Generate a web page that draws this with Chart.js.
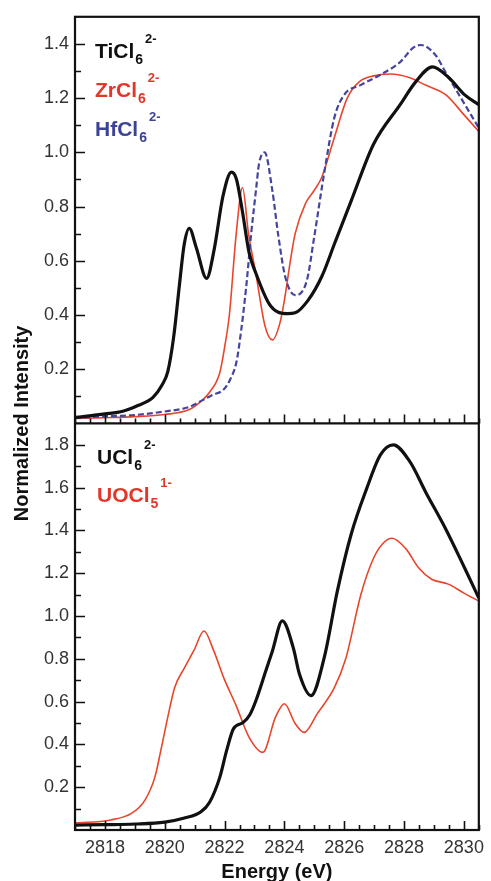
<!DOCTYPE html>
<html>
<head>
<meta charset="utf-8">
<script src="https://cdn.jsdelivr.net/npm/chart.js@4.4.1/dist/chart.umd.min.js"></script>
<style>
html,body{margin:0;padding:0;background:#ffffff;}
#wrap{width:491px;height:881px;position:relative;}
</style>
</head>
<body>
<div id="wrap"><canvas id="c" width="491" height="881"></canvas></div>
<script>
// ---------- data ----------
const xTicks = [2818, 2820, 2822, 2824, 2826, 2828, 2830];
const yTopTicks = [0.2, 0.4, 0.6, 0.8, 1.0, 1.2, 1.4];
const yBotTicks = [0.2, 0.4, 0.6, 0.8, 1.0, 1.2, 1.4, 1.6, 1.8];

// Top panel: TiCl6 2-
const tiE = [2817, 2818, 2818.6, 2819.1, 2819.6, 2819.9, 2820.1, 2820.3, 2820.5, 2820.65, 2820.82, 2821.05, 2821.4, 2821.65, 2821.95, 2822.23, 2822.4, 2822.6, 2822.82, 2823.05, 2823.48, 2823.8, 2824.1, 2824.36, 2824.79, 2825.25, 2825.7, 2826.23, 2826.98, 2827.87, 2828.39, 2828.95, 2829.5, 2830.03, 2830.5];
const tiI = [0.022, 0.035, 0.045, 0.066, 0.095, 0.14, 0.19, 0.32, 0.52, 0.66, 0.72, 0.65, 0.535, 0.64, 0.84, 0.927, 0.90, 0.78, 0.63, 0.553, 0.443, 0.41, 0.405, 0.408, 0.454, 0.542, 0.67, 0.82, 1.03, 1.176, 1.26, 1.315, 1.275, 1.212, 1.176];

// Top panel: ZrCl6 2-
const zrE = [2817, 2818, 2819, 2820, 2820.8, 2821.25, 2821.5, 2821.84, 2822.0, 2822.16, 2822.39, 2822.6, 2822.8, 2823.05, 2823.35, 2823.6, 2823.85, 2824.0, 2824.2, 2824.36, 2824.7, 2825.0, 2825.25, 2825.67, 2826.1, 2826.5, 2826.98, 2827.54, 2828.2, 2828.7, 2829.4, 2830.0, 2830.5];
const zrI = [0.018, 0.021, 0.025, 0.033, 0.05, 0.085, 0.115, 0.187, 0.28, 0.40, 0.70, 0.87, 0.70, 0.55, 0.36, 0.308, 0.37, 0.454, 0.60, 0.70, 0.81, 0.86, 0.908, 1.055, 1.2, 1.26, 1.282, 1.289, 1.275, 1.249, 1.212, 1.139, 1.077];

// Top panel: HfCl6 2-
const hfE = [2817, 2818, 2819, 2820, 2820.8, 2821.25, 2821.6, 2821.97, 2822.2, 2822.39, 2822.5, 2822.72, 2822.89, 2823.05, 2823.15, 2823.34, 2823.6, 2823.8, 2824.03, 2824.36, 2824.75, 2825.0, 2825.34, 2825.67, 2826.0, 2826.56, 2827.21, 2827.87, 2828.3, 2828.56, 2829.05, 2829.38, 2829.84, 2830.5];
const hfI = [0.02, 0.026, 0.031, 0.044, 0.06, 0.085, 0.105, 0.125, 0.165, 0.223, 0.297, 0.50, 0.70, 0.86, 0.956, 1.0, 0.857, 0.69, 0.54, 0.473, 0.527, 0.69, 0.93, 1.128, 1.212, 1.249, 1.286, 1.333, 1.385, 1.396, 1.359, 1.297, 1.212, 1.09];

// Bottom panel: UCl6 2-
const uE = [2817, 2818, 2819, 2820, 2820.66, 2821.2, 2821.5, 2821.84, 2822.07, 2822.3, 2822.62, 2822.85, 2823.05, 2823.38, 2823.6, 2823.93, 2824.3, 2824.5, 2824.89, 2825.34, 2825.77, 2826.23, 2826.75, 2827.21, 2827.64, 2828.2, 2828.72, 2829.38, 2830.03, 2830.5];
const uI = [0.023, 0.025, 0.028, 0.037, 0.056, 0.084, 0.13, 0.246, 0.372, 0.474, 0.502, 0.54, 0.605, 0.744, 0.837, 0.977, 0.85, 0.73, 0.628, 0.81, 1.116, 1.381, 1.595, 1.753, 1.80, 1.72, 1.58, 1.41, 1.223, 1.084];

// Bottom panel: UOCl5 1-
const uoE = [2817, 2818.2, 2818.9, 2819.34, 2819.67, 2819.87, 2820.1, 2820.33, 2820.66, 2820.98, 2821.31, 2821.64, 2821.97, 2822.39, 2822.82, 2823.28, 2823.7, 2824.0, 2824.36, 2824.66, 2825.1, 2825.67, 2826.05, 2826.56, 2826.98, 2827.3, 2827.6, 2828.05, 2828.5, 2828.92, 2829.48, 2830.0, 2830.5];
const uoI = [0.033, 0.047, 0.079, 0.14, 0.247, 0.372, 0.526, 0.665, 0.758, 0.84, 0.93, 0.837, 0.712, 0.58, 0.433, 0.363, 0.526, 0.59, 0.498, 0.456, 0.544, 0.665, 0.80, 1.102, 1.27, 1.34, 1.363, 1.316, 1.223, 1.172, 1.149, 1.107, 1.07];

// Legend labels: [base, subscript, superscript]
const topNames = [['TiCl', '6', '2-'], ['ZrCl', '6', '2-'], ['HfCl', '6', '2-']];
const botNames = [['UCl', '6', '2-'], ['UOCl', '5', '1-']];

// ---------- styling ----------
const FONT = "'Liberation Sans', Arial, Helvetica, sans-serif";
const BLACK = '#111111', RED = '#e8452c', BLUE = '#45459e';
const TXT_RED = '#e2362a', TXT_BLUE = '#3c4296';

const pts = (E, I) => E.map((e, i) => ({x: e, y: I[i]}));

const decoPlugin = {
  id: 'deco',
  afterDatasetsDraw(chart) {
    const ctx = chart.ctx;
    const {left, right, top, bottom} = chart.chartArea;
    const x = chart.scales.x, yT = chart.scales.yTop, yB = chart.scales.yBot;
    const mid = yT.bottom;
    ctx.save();
    ctx.strokeStyle = BLACK;
    ctx.lineWidth = 2.2;
    ctx.strokeRect(left, top, right - left, bottom - top);
    ctx.beginPath(); ctx.moveTo(left, mid); ctx.lineTo(right, mid); ctx.stroke();
    ctx.lineWidth = 1.6;
    ctx.beginPath();
    // x ticks (inward, pointing up) on divider and bottom axis
    for (let k = 0; k <= 27; k++) {
      const v = 2817 + k * 0.5;
      const px = Math.round(x.getPixelForValue(v)) + 0.5;
      const len = (v % 2 === 0) ? 9 : 5;
      ctx.moveTo(px, mid); ctx.lineTo(px, mid - len);
      ctx.moveTo(px, bottom); ctx.lineTo(px, bottom - len);
    }
    // y ticks (inward, pointing right)
    for (let k = 1; k <= 14; k++) {
      const py = Math.round(yT.getPixelForValue(k / 10)) + 0.5;
      const len = (k % 2 === 0) ? 10 : 6;
      ctx.moveTo(left, py); ctx.lineTo(left + len, py);
    }
    for (let k = 1; k <= 18; k++) {
      const py = Math.round(yB.getPixelForValue(k / 10)) + 0.5;
      const len = (k % 2 === 0) ? 10 : 6;
      ctx.moveTo(left, py); ctx.lineTo(left + len, py);
    }
    ctx.stroke();

    // species labels
    const drawName = (parts, color, x0, base) => {
      ctx.fillStyle = color;
      ctx.textAlign = 'left';
      ctx.textBaseline = 'alphabetic';
      ctx.font = 'bold 21px ' + FONT;
      ctx.fillText(parts[0], x0, base);
      let cx = x0 + ctx.measureText(parts[0]).width + 1;
      ctx.font = 'bold 14px ' + FONT;
      ctx.fillText(parts[1], cx, base + 6);
      cx += ctx.measureText(parts[1]).width + 2;
      ctx.font = 'bold 13px ' + FONT;
      ctx.fillText(parts[2], cx, base - 15);
    };
    const topColors = [BLACK, TXT_RED, TXT_BLUE];
    topNames.forEach((p, i) => drawName(p, topColors[i], left + 20, top + 41 + i * 39));
    const botColors = [BLACK, TXT_RED];
    botNames.forEach((p, i) => drawName(p, botColors[i], left + 22, mid + 41 + i * 38));

    // axis titles
    ctx.fillStyle = BLACK;
    ctx.font = 'bold 20px ' + FONT;
    ctx.textAlign = 'center';
    ctx.textBaseline = 'alphabetic';
    ctx.fillText('Energy (eV)', (left + right) / 2, 878);
    ctx.translate(28, mid);
    ctx.rotate(-Math.PI / 2);
    ctx.fillText('Normalized Intensity', 0, 0);
    ctx.restore();
  }
};

const tickFont = {family: FONT, size: 18};
const yCommon = {
  type: 'linear', position: 'left', stack: 'panels', stackWeight: 1,
  grid: {display: false, drawTicks: false}, border: {display: false},
  afterFit: s => { s.width = 75; },
  ticks: {font: tickFont, color: '#333', padding: 6, autoSkip: false, callback: v => Number(v).toFixed(1)}
};

new Chart(document.getElementById('c'), {
  type: 'line',
  data: {
    datasets: [
      {data: pts(tiE, tiI), yAxisID: 'yTop', borderColor: BLACK, borderWidth: 3.2, order: 1},
      {data: pts(zrE, zrI), yAxisID: 'yTop', borderColor: RED, borderWidth: 1.6, order: 3},
      {data: pts(hfE, hfI), yAxisID: 'yTop', borderColor: BLUE, borderWidth: 2.2, borderDash: [6, 3], order: 2},
      {data: pts(uE, uI), yAxisID: 'yBot', borderColor: BLACK, borderWidth: 3.2, order: 1},
      {data: pts(uoE, uoI), yAxisID: 'yBot', borderColor: RED, borderWidth: 1.6, order: 3}
    ]
  },
  options: {
    responsive: false,
    animation: false,
    devicePixelRatio: 1,
    layout: {padding: {left: 0, right: 3, top: 11, bottom: 0}},
    elements: {point: {radius: 0}, line: {cubicInterpolationMode: 'monotone', fill: false}},
    plugins: {legend: {display: false}, tooltip: {enabled: false}, title: {display: false}},
    scales: {
      x: {
        type: 'linear', position: 'bottom', min: 2817, max: 2830.5,
        grid: {display: false, drawTicks: false}, border: {display: false},
        afterBuildTicks: s => { s.ticks = xTicks.map(v => ({value: v})); },
        afterFit: s => { s.height = 51; },
        ticks: {font: tickFont, color: '#333', padding: 7, maxRotation: 0, autoSkip: false, callback: v => String(v)}
      },
      yTop: Object.assign({}, yCommon, {
        min: 0, max: 1.5, weight: 2,
        afterBuildTicks: s => { s.ticks = yTopTicks.map(v => ({value: v})); }
      }),
      yBot: Object.assign({}, yCommon, {
        min: 0, max: 1.9, weight: 1,
        afterBuildTicks: s => { s.ticks = yBotTicks.map(v => ({value: v})); }
      })
    }
  },
  plugins: [decoPlugin]
});
</script>
</body>
</html>
